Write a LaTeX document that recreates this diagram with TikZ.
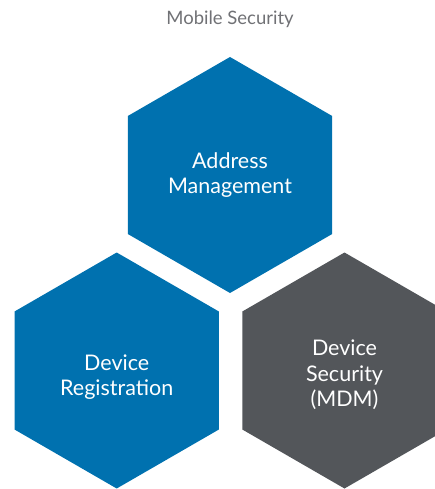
\documentclass[tikz,border=0pt]{standalone}
\usepackage{fontspec}
\setmainfont{Lato}
\definecolor{hexblue}{HTML}{0071AF}
\definecolor{hexgray}{HTML}{53565A}
\definecolor{titlegray}{HTML}{707175}
\tikzset{
  hextext/.style={text=white, font=\fontsize{21.5}{25.5}\selectfont, align=center},
}
\newcommand{\hexpath}[3]{%
  (#1+0,#2-118) -- (#1+102.2,#2-59) -- (#1+102.2,#2+59) -- (#1+0,#2+118) -- (#1-102.2,#2+59) -- (#1-102.2,#2-59) -- cycle}
\begin{document}
\begin{tikzpicture}[x=1pt,y=-1pt]
\useasboundingbox (0,0) rectangle (435,489);
\clip (0,0) rectangle (435,489);
\fill[hexblue] \hexpath{230}{175}{};
\fill[hexblue] \hexpath{116.7}{370.5}{};
\fill[hexgray] \hexpath{344.5}{370.5}{};
\node[text=titlegray, font=\fontsize{18.5}{22}\selectfont] (title) at (230,19) {Mobile Security};
\node[hextext] (addr) at (230,175) {Address\\Management};
\node[hextext] (reg) at (116.7,377) {Device\\Registration};
\node[hextext] (sec) at (344.5,375) {Device\\Security\\(MDM)};
\end{tikzpicture}
\end{document}
